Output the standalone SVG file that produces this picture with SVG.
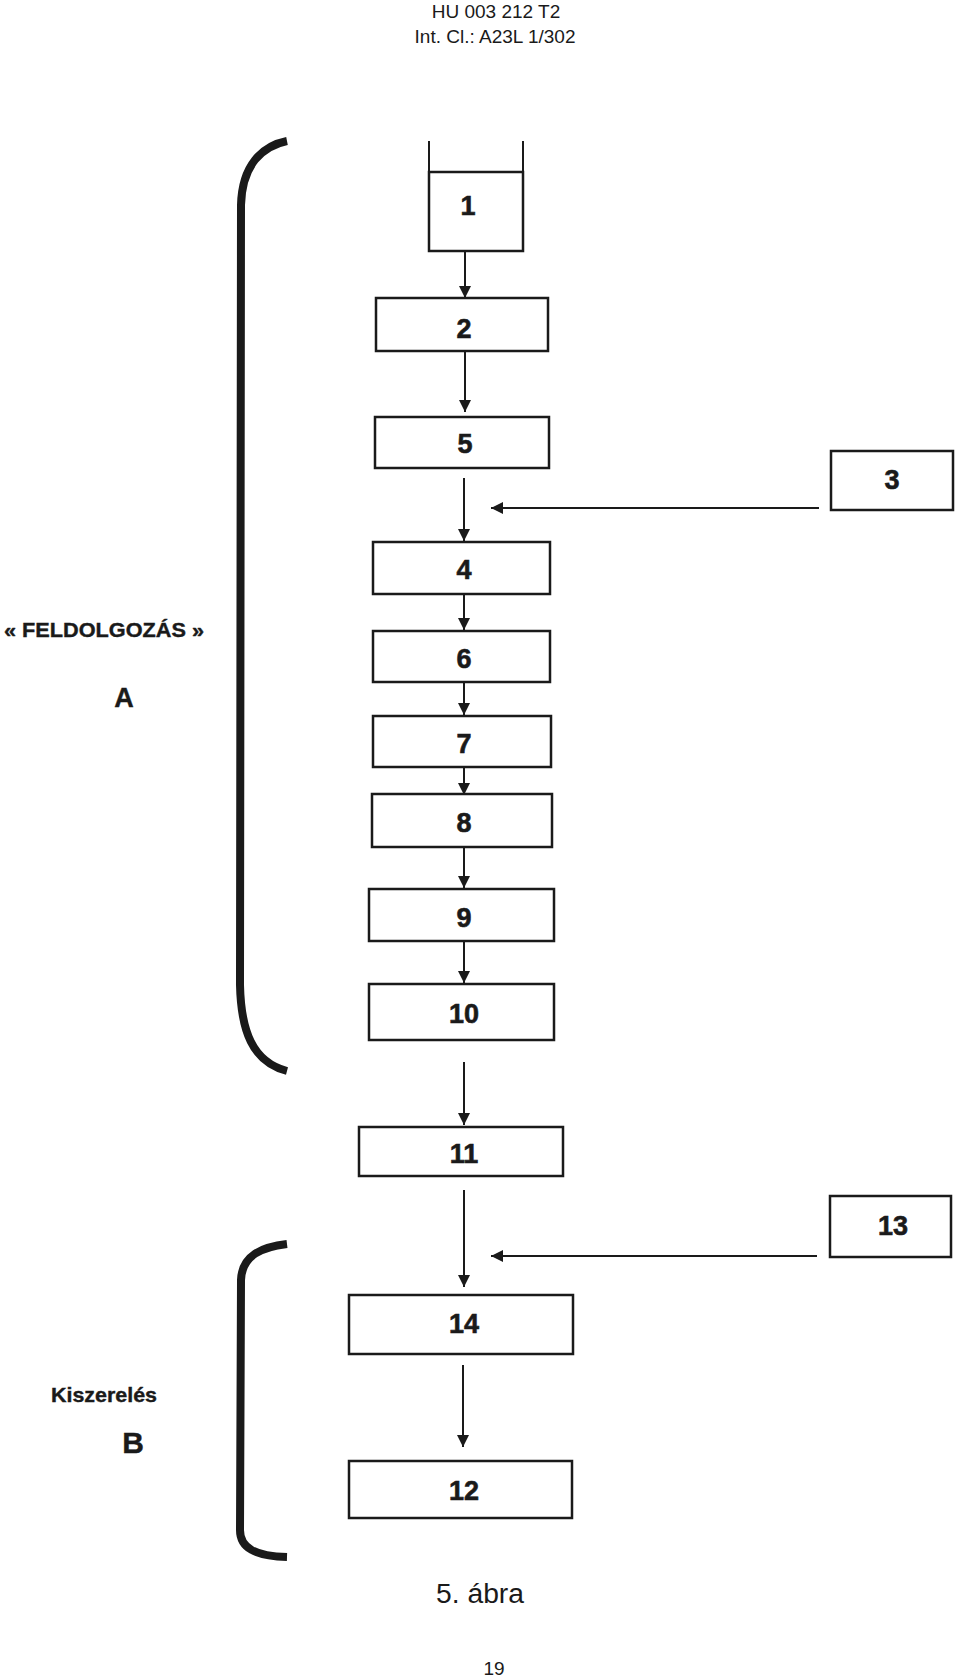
<svg xmlns="http://www.w3.org/2000/svg" width="960" height="1677" viewBox="0 0 960 1677">
<style>
  .box rect { fill: #fff; stroke: #1a1a1a; stroke-width: 2.5; }
  .box text { font-family: "Liberation Sans", Arial, sans-serif; font-weight: bold; font-size: 27px; fill: #1a1a1a; text-anchor: middle; stroke: #1a1a1a; stroke-width: 0.6; }
  .conn line { stroke: #1a1a1a; stroke-width: 2; }
  .brace { fill: none; stroke: #1a1a1a; stroke-width: 8; stroke-linecap: butt; }
  .hdr { font-family: "Liberation Sans", Arial, sans-serif; font-size: 19px; fill: #1a1a1a; text-anchor: middle; }
  .lbl { font-family: "Liberation Sans", Arial, sans-serif; font-weight: bold; fill: #1a1a1a; stroke: #1a1a1a; stroke-width: 0.4; }
</style>
<defs>
  <marker id="ah" viewBox="0 0 12 12" refX="12" refY="6" markerWidth="12" markerHeight="12" markerUnits="userSpaceOnUse" orient="auto">
    <path d="M0,0 L12,6 L0,12 z" fill="#1a1a1a"/>
  </marker>
</defs>
<rect width="960" height="1677" fill="#fff"/>

<g id="header">
  <text class="hdr" x="496" y="18">HU 003 212 T2</text>
  <text class="hdr" x="495" y="43">Int. Cl.: A23L 1/302</text>
</g>

<g id="braces">
  <path class="brace" d="M287,141 C262,146 242,165 241,205 L240,985 C241,1030 252,1062 287,1071"/>
  <path class="brace" d="M287,1244 C262,1247 242,1255 241,1280 L240,1530 C240,1548 255,1556 287,1557"/>
</g>

<g id="labels">
  <text class="lbl" x="4" y="637" font-size="21" textLength="200" lengthAdjust="spacingAndGlyphs">« FELDOLGOZÁS »</text>
  <text class="lbl" x="124" y="707" font-size="27" text-anchor="middle">A</text>
  <text class="lbl" x="51" y="1402" font-size="21" textLength="106" lengthAdjust="spacingAndGlyphs">Kiszerelés</text>
  <text class="lbl" x="133" y="1453" font-size="30" text-anchor="middle">B</text>
</g>

<g id="connectors" class="conn">
  <line x1="429" y1="141" x2="429" y2="172"/>
  <line x1="523" y1="141" x2="523" y2="172"/>
  <line x1="465" y1="251" x2="465" y2="298" marker-end="url(#ah)"/>
  <line x1="465" y1="351" x2="465" y2="412" marker-end="url(#ah)"/>
  <line x1="464" y1="478" x2="464" y2="541" marker-end="url(#ah)"/>
  <line x1="819" y1="508" x2="491" y2="508" marker-end="url(#ah)"/>
  <line x1="464" y1="583" x2="464" y2="630" marker-end="url(#ah)"/>
  <line x1="464" y1="682" x2="464" y2="715" marker-end="url(#ah)"/>
  <line x1="464" y1="767" x2="464" y2="795" marker-end="url(#ah)"/>
  <line x1="464" y1="843" x2="464" y2="888" marker-end="url(#ah)"/>
  <line x1="464" y1="941" x2="464" y2="983" marker-end="url(#ah)"/>
  <line x1="464" y1="1062" x2="464" y2="1125" marker-end="url(#ah)"/>
  <line x1="464" y1="1190" x2="464" y2="1287" marker-end="url(#ah)"/>
  <line x1="817" y1="1256" x2="491" y2="1256" marker-end="url(#ah)"/>
  <line x1="463" y1="1365" x2="463" y2="1447" marker-end="url(#ah)"/>
</g>

<g id="n1" class="box"><rect x="429" y="172" width="94" height="79"/><text x="468" y="215">1</text></g>
<g id="n2" class="box"><rect x="376" y="298" width="172" height="53"/><text x="464" y="338">2</text></g>
<g id="n5" class="box"><rect x="375" y="417" width="174" height="51"/><text x="465" y="453">5</text></g>
<g id="n3" class="box"><rect x="831" y="451" width="122" height="59"/><text x="892" y="489">3</text></g>
<g id="n4" class="box"><rect x="373" y="542" width="177" height="52"/><text x="464" y="579">4</text></g>
<g id="n6" class="box"><rect x="373" y="631" width="177" height="51"/><text x="464" y="668">6</text></g>
<g id="n7" class="box"><rect x="373" y="716" width="178" height="51"/><text x="464" y="753">7</text></g>
<g id="n8" class="box"><rect x="372" y="794" width="180" height="53"/><text x="464" y="832">8</text></g>
<g id="n9" class="box"><rect x="369" y="889" width="185" height="52"/><text x="464" y="927">9</text></g>
<g id="n10" class="box"><rect x="369" y="984" width="185" height="56"/><text x="464" y="1023">10</text></g>
<g id="n11" class="box"><rect x="359" y="1127" width="204" height="49"/><text x="464" y="1163">11</text></g>
<g id="n13" class="box"><rect x="830" y="1196" width="121" height="61"/><text x="893" y="1235">13</text></g>
<g id="n14" class="box"><rect x="349" y="1295" width="224" height="59"/><text x="464" y="1333">14</text></g>
<g id="n12" class="box"><rect x="349" y="1461" width="223" height="57"/><text x="464" y="1500">12</text></g>

<g id="caption">
  <text x="436" y="1603" font-family="Liberation Sans, Arial, sans-serif" font-size="27" fill="#1a1a1a" textLength="88" lengthAdjust="spacingAndGlyphs">5. ábra</text>
  <text class="hdr" x="494" y="1675" font-size="18">19</text>
</g>
</svg>
